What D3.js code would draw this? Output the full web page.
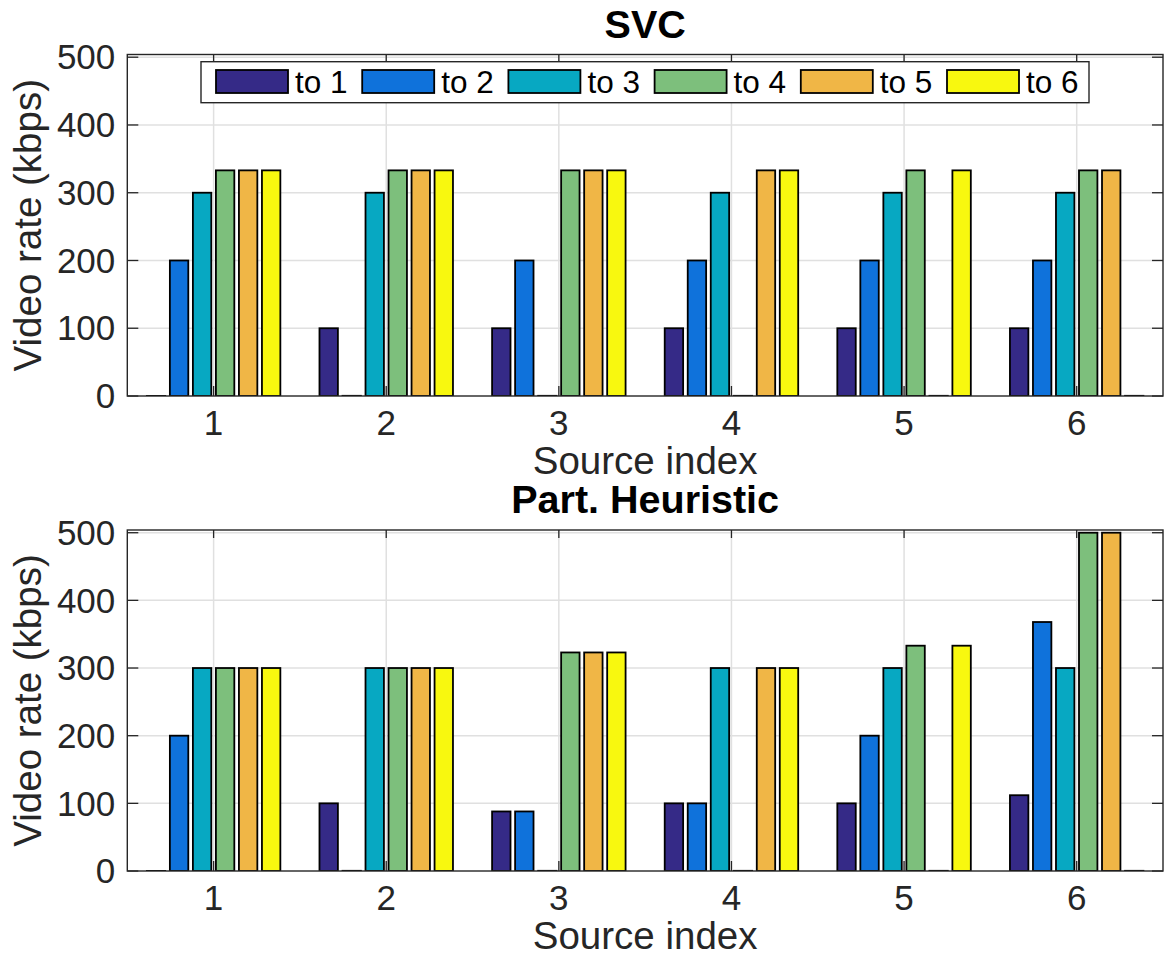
<!DOCTYPE html>
<html>
<head>
<meta charset="utf-8">
<script src="https://cdn.jsdelivr.net/npm/d3@7"></script>
<style>
  html, body { margin: 0; padding: 0; background: #fff; }
  svg { display: block; }
  text { font-family: "Liberation Sans", Arial, Helvetica, sans-serif; }
</style>
</head>
<body>
<svg id="chart" width="1166" height="956"></svg>
<script>
// Source indices along the x axis
const sources = [1, 2, 3, 4, 5, 6];
// Destination series (one bar per destination inside each group)
const seriesNames = ["to 1", "to 2", "to 3", "to 4", "to 5", "to 6"];
const seriesColors = ["#352A87", "#0F72DB", "#07A8C2", "#7DBF7C", "#F0B646", "#F8F80F"];
const yTicks = [0, 100, 200, 300, 400, 500];

// SVC video rates (kbps), one array per destination, indexed by source
const svcTo1 = [0, 100, 100, 100, 100, 100];
const svcTo2 = [200, 0, 200, 200, 200, 200];
const svcTo3 = [300, 300, 0, 300, 300, 300];
const svcTo4 = [333, 333, 333, 0, 333, 333];
const svcTo5 = [333, 333, 333, 333, 0, 333];
const svcTo6 = [333, 333, 333, 333, 333, 0];

// Partitioning heuristic video rates (kbps)
const heurTo1 = [0, 100, 88, 100, 100, 112];
const heurTo2 = [200, 0, 88, 100, 200, 368];
const heurTo3 = [300, 300, 0, 300, 300, 300];
const heurTo4 = [300, 300, 323, 0, 333, 500];
const heurTo5 = [300, 300, 323, 300, 0, 500];
const heurTo6 = [300, 300, 323, 300, 333, 0];

const panels = [
  { title: "SVC", series: [svcTo1, svcTo2, svcTo3, svcTo4, svcTo5, svcTo6], top: 54.5, bottom: 396, legend: true },
  { title: "Part. Heuristic", series: [heurTo1, heurTo2, heurTo3, heurTo4, heurTo5, heurTo6], top: 530, bottom: 871, legend: false }
];

const svg = d3.select("#chart");
const left = 127.3, right = 1163;
const axisColor = "#262626";
const gridColor = "#E0E0E0";
const tickFont = 35, labelFont = 38.5, titleFont = 39.5, legendFont = 31.5;

const x = d3.scaleLinear().domain([0.5, 6.5]).range([left, right]);
const step = x(2) - x(1);
// Position of each destination bar inside a group of width 0.8
const inner = d3.scaleBand().domain(seriesNames)
  .range([-0.4 * step, 0.4 * step]).paddingInner(0.2).paddingOuter(0.1);

panels.forEach((p, pi) => {
  const g = svg.append("g");
  const y = d3.scaleLinear().domain([0, 504]).range([p.bottom, p.top]);
  const clipId = "clip" + pi;
  g.append("clipPath").attr("id", clipId).append("rect")
    .attr("x", left).attr("y", p.top).attr("width", right - left).attr("height", p.bottom - p.top);

  // grid lines
  g.append("g").selectAll("line").data(sources).join("line")
    .attr("x1", d => x(d)).attr("x2", d => x(d)).attr("y1", p.top).attr("y2", p.bottom)
    .attr("stroke", gridColor).attr("stroke-width", 1.5);
  g.append("g").selectAll("line").data(yTicks.filter(v => v > 0)).join("line")
    .attr("x1", left).attr("x2", right).attr("y1", d => y(d)).attr("y2", d => y(d))
    .attr("stroke", gridColor).attr("stroke-width", 1.5);

  // inward tick marks (left/right for y, top/bottom for x)
  const tk = g.append("g").attr("stroke", axisColor).attr("stroke-width", 1.3);
  yTicks.forEach(v => {
    tk.append("line").attr("x1", left).attr("x2", left + 11).attr("y1", y(v)).attr("y2", y(v));
    tk.append("line").attr("x1", right).attr("x2", right - 11).attr("y1", y(v)).attr("y2", y(v));
  });
  sources.forEach(s => {
    tk.append("line").attr("x1", x(s)).attr("x2", x(s)).attr("y1", p.bottom).attr("y2", p.bottom - 10);
    tk.append("line").attr("x1", x(s)).attr("x2", x(s)).attr("y1", p.top).attr("y2", p.top + 8);
  });

  // bars
  const barsG = g.append("g").attr("clip-path", `url(#${clipId})`);
  p.series.forEach((vals, si) => {
    const name = seriesNames[si];
    const bw = inner.bandwidth();
    const data = sources.map((s, i) => ({ s, v: vals[i] }));
    barsG.append("g").selectAll("rect").data(data.filter(d => d.v > 0)).join("rect")
      .attr("x", d => x(d.s) + inner(name))
      .attr("width", bw)
      .attr("y", d => y(d.v))
      .attr("height", d => y(0) - y(d.v))
      .attr("fill", seriesColors[si])
      .attr("stroke", "#000").attr("stroke-width", 1.8);
    // zero-height bars collapse to a line on the baseline
    barsG.append("g").selectAll("line").data(data.filter(d => d.v === 0)).join("line")
      .attr("x1", d => x(d.s) + inner(name) - 0.9)
      .attr("x2", d => x(d.s) + inner(name) + bw + 0.9)
      .attr("y1", y(0)).attr("y2", y(0))
      .attr("stroke", "#000").attr("stroke-width", 2.2);
  });

  // axes box
  g.append("rect").attr("x", left).attr("y", p.top).attr("width", right - left).attr("height", p.bottom - p.top)
    .attr("fill", "none").attr("stroke", axisColor).attr("stroke-width", 1.4);

  // tick labels
  g.append("g").selectAll("text").data(yTicks).join("text")
    .attr("x", left - 12).attr("y", d => y(d)).attr("dy", "0.35em")
    .attr("text-anchor", "end").attr("font-size", tickFont).attr("fill", axisColor)
    .text(d => d);
  g.append("g").selectAll("text").data(sources).join("text")
    .attr("x", d => x(d)).attr("y", p.bottom + 39)
    .attr("text-anchor", "middle").attr("font-size", tickFont).attr("fill", axisColor)
    .text(d => d);

  // axis labels and title
  g.append("text").attr("x", (left + right) / 2).attr("y", p.bottom + 77.5)
    .attr("text-anchor", "middle").attr("font-size", labelFont).attr("fill", axisColor)
    .text("Source index");
  g.append("text")
    .attr("transform", `translate(41,${(p.top + p.bottom) / 2}) rotate(-90)`)
    .attr("text-anchor", "middle").attr("font-size", labelFont).attr("fill", axisColor)
    .text("Video rate (kbps)");
  g.append("text").attr("x", (left + right) / 2).attr("y", p.top - 17)
    .attr("text-anchor", "middle").attr("font-size", titleFont).attr("font-weight", "bold").attr("fill", "#000")
    .text(p.title);

  // legend
  if (p.legend) {
    const lg = g.append("g");
    lg.append("rect").attr("x", 201).attr("y", 61.7).attr("width", 888).attr("height", 41)
      .attr("fill", "#fff").attr("stroke", axisColor).attr("stroke-width", 1.4);
    seriesNames.forEach((name, i) => {
      const lx = 216 + i * 146.2;
      lg.append("rect").attr("x", lx).attr("y", 70).attr("width", 72).attr("height", 23)
        .attr("fill", seriesColors[i]).attr("stroke", "#000").attr("stroke-width", 1.8);
      lg.append("text").attr("x", lx + 79).attr("y", 92.5)
        .attr("font-size", legendFont).attr("fill", "#000").text(name);
    });
  }
});
</script>
</body>
</html>
